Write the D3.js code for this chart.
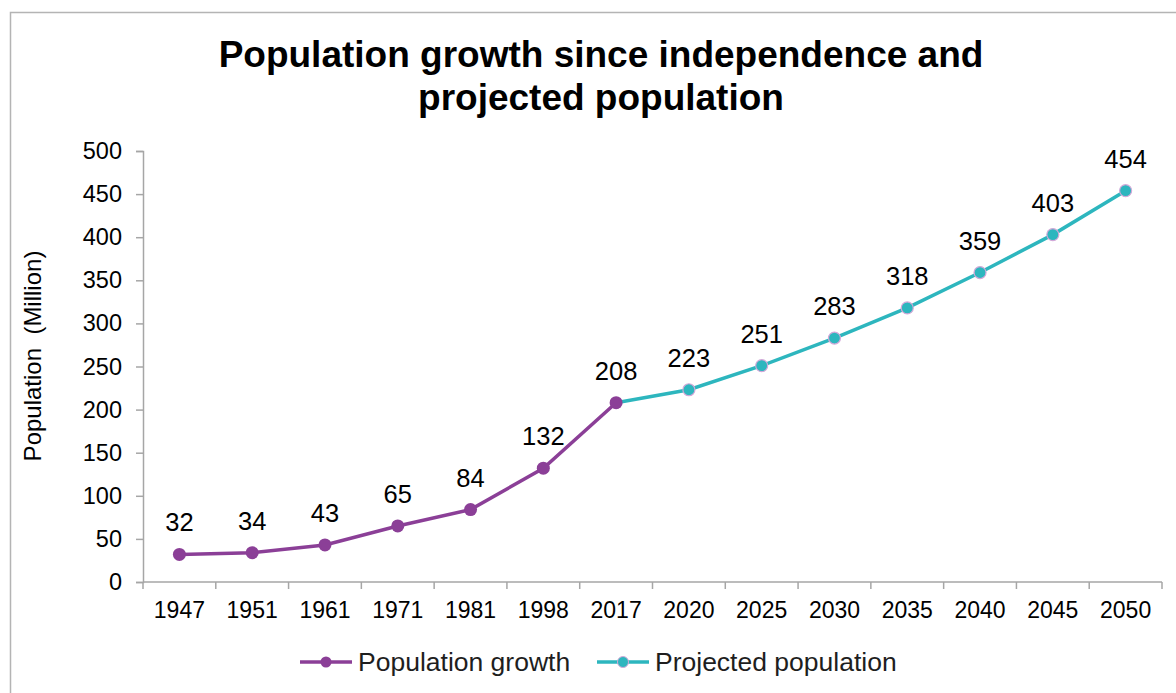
<!DOCTYPE html>
<html>
<head>
<meta charset="utf-8">
<script src="https://cdn.jsdelivr.net/npm/d3@7"></script>
<style>
  html, body { margin: 0; padding: 0; background: #fff; }
  svg { display: block; font-family: "Liberation Sans", Arial, sans-serif; }
</style>
</head>
<body>
<svg id="chart" width="1176" height="693"></svg>
<script>
// Census years and projection years
const years = ["1947", "1951", "1961", "1971", "1981", "1998", "2017",
               "2020", "2025", "2030", "2035", "2040", "2045", "2050"];
// Population in millions, historical (up to 2017) and projected (from 2017 on)
const growthYears = ["1947", "1951", "1961", "1971", "1981", "1998", "2017"];
const growthValues = [32, 34, 43, 65, 84, 132, 208];
const projectedYears = ["2017", "2020", "2025", "2030", "2035", "2040", "2045", "2050"];
const projectedValues = [208, 223, 251, 283, 318, 359, 403, 454];
const yTicks = [0, 50, 100, 150, 200, 250, 300, 350, 400, 450, 500];
const seriesNames = ["Population growth", "Projected population"];

const purple = "#8b3f97";
const teal = "#2db6be";
const axisGrey = "#a6a6a6";

const svg = d3.select("#chart");
const W = 1176, H = 693;

// Outer frame (left and top edges visible)
svg.append("path")
  .attr("d", `M10.5,${H} L10.5,12.5 L${W},12.5`)
  .attr("fill", "none").attr("stroke", "#b4b4b4").attr("stroke-width", 1.5);

// Title
const title = svg.append("text")
  .attr("text-anchor", "middle")
  .attr("font-weight", "bold").attr("font-size", 37)
  .attr("fill", "#000");
title.append("tspan").attr("x", 601).attr("y", 67).text("Population growth since independence and");
title.append("tspan").attr("x", 601).attr("y", 110).text("projected population");

const x = d3.scaleBand().domain(years).range([143, 1162]).padding(0);
const y = d3.scaleLinear().domain([0, 500]).range([582, 151]);
const cx = d => x(d) + x.bandwidth() / 2;

// Y axis
const yAxis = svg.append("g").attr("transform", "translate(143,0)")
  .call(d3.axisLeft(y).tickValues(yTicks).tickSize(7).tickPadding(14));
yAxis.select(".domain").attr("stroke", axisGrey).attr("stroke-width", 1.5);
yAxis.selectAll(".tick line").attr("stroke", axisGrey).attr("stroke-width", 1.5);
yAxis.selectAll(".tick text").attr("font-size", 23.5).attr("fill", "#000")
  .attr("font-family", "Liberation Sans, Arial, sans-serif");

// X axis with ticks at category boundaries
const xAxisG = svg.append("g").attr("transform", "translate(0,582)");
xAxisG.append("line").attr("x1", 143).attr("x2", 1162).attr("y1", 0).attr("y2", 0)
  .attr("stroke", axisGrey).attr("stroke-width", 1.5);
const bounds = years.map(d => x(d)).concat([x(years[years.length - 1]) + x.bandwidth()]);
xAxisG.selectAll("line.tk").data(bounds).join("line").attr("class", "tk")
  .attr("x1", d => d).attr("x2", d => d).attr("y1", 0).attr("y2", 7)
  .attr("stroke", axisGrey).attr("stroke-width", 1.5);
xAxisG.selectAll("text").data(years).join("text")
  .attr("x", d => cx(d)).attr("y", 36)
  .attr("text-anchor", "middle").attr("font-size", 23).attr("fill", "#000")
  .text(d => d);

// Y axis title
svg.append("text")
  .attr("transform", "translate(41,356) rotate(-90)")
  .attr("text-anchor", "middle").attr("font-size", 24).attr("fill", "#000")
  .attr("xml:space", "preserve")
  .text("Population  (Million)");

const line = d3.line().x(d => cx(d[0])).y(d => y(d[1]));
const growth = growthYears.map((d, i) => [d, growthValues[i]]);
const projected = projectedYears.map((d, i) => [d, projectedValues[i]]);

// Projected series line and markers (2017 shares the historical marker)
svg.append("path").datum(projected).attr("d", line)
  .attr("fill", "none").attr("stroke", teal).attr("stroke-width", 3.5);
svg.append("path").datum(growth).attr("d", line)
  .attr("fill", "none").attr("stroke", purple).attr("stroke-width", 3.5);

svg.selectAll("circle.proj").data(projected.slice(1)).join("circle").attr("class", "proj")
  .attr("cx", d => cx(d[0])).attr("cy", d => y(d[1])).attr("r", 6)
  .attr("fill", teal).attr("stroke", "#d2a8d8").attr("stroke-width", 1.2);
svg.selectAll("circle.grow").data(growth).join("circle").attr("class", "grow")
  .attr("cx", d => cx(d[0])).attr("cy", d => y(d[1])).attr("r", 6.5)
  .attr("fill", purple);

// Value labels
const labelData = growth.concat(projected.slice(1));
svg.selectAll("text.val").data(labelData).join("text").attr("class", "val")
  .attr("x", d => cx(d[0])).attr("y", d => y(d[1]) - 23)
  .attr("text-anchor", "middle").attr("font-size", 25.5).attr("fill", "#000")
  .text(d => d[1]);

// Legend
const legend = svg.append("g");
const legendItems = [
  { name: seriesNames[0], color: purple, x0: 300, stroke: null },
  { name: seriesNames[1], color: teal, x0: 597, stroke: "#d2a8d8" }
];
legendItems.forEach(it => {
  const g = legend.append("g").attr("transform", `translate(${it.x0},662)`);
  g.append("line").attr("x1", 0).attr("x2", 52).attr("y1", 0).attr("y2", 0)
    .attr("stroke", it.color).attr("stroke-width", 3.5);
  g.append("circle").attr("cx", 26).attr("cy", 0).attr("r", 5.5)
    .attr("fill", it.color).attr("stroke", it.stroke || "none").attr("stroke-width", 1);
  g.append("text").attr("x", 58).attr("y", 9).attr("font-size", 26.5)
    .attr("fill", "#1e1e1e").text(it.name);
});
</script>
</body>
</html>
